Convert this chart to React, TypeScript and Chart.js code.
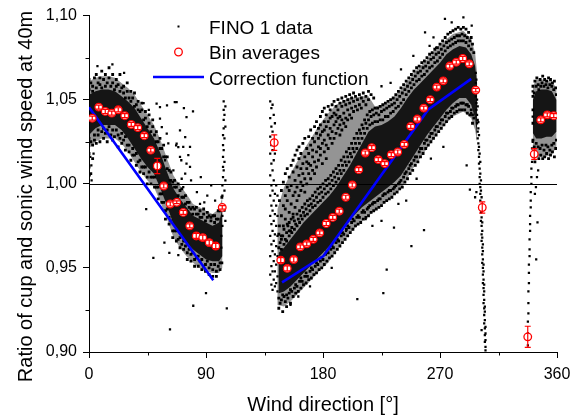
import React, { useEffect, useRef } from 'react';
import { Chart, registerables } from 'chart.js';
Chart.register(...registerables);

const FONT = "'Liberation Sans', Arial, Helvetica, sans-serif";

const xTitle = 'Wind direction [°]';
const yTitle = 'Ratio of cup and sonic wind speed at 40m';
const legendLabels = ['FINO 1 data', 'Bin averages', 'Correction function'];

const xTicks = [0, 90, 180, 270, 360];
const yTicks = [0.9, 0.95, 1.0, 1.05, 1.1];
const xMinorTicks = [45, 135, 225, 315];
const yMinorTicks = [0.925, 0.975, 1.025, 1.075];
const refRatio = 1.0;

// Bin averages (5° bins)
const binDir = [2.5, 7.5, 12.5, 17.5, 22.5, 27.5, 32.5, 37.5, 42.5, 47.5, 52.5, 57.5, 62.5, 67.5, 72.5, 77.5, 82.5, 87.5, 92.5, 97.5, 102.5,
  142.5, 147.5, 152.5, 157.5, 162.5, 167.5, 172.5, 177.5, 182.5, 187.5, 192.5, 197.5, 202.5, 207.5, 212.5, 217.5, 222.5, 227.5, 232.5, 237.5,
  242.5, 247.5, 252.5, 257.5, 262.5, 267.5, 272.5, 277.5, 282.5, 287.5, 292.5, 297.5, 302.5, 337.5, 342.5, 347.5, 352.5, 357.5];
const binMean = [1.039, 1.0456, 1.043, 1.042, 1.044, 1.0405, 1.0353, 1.0334, 1.0286, 1.020, 1.0106, 0.9987, 0.988, 0.989, 0.983, 0.975, 0.969, 0.968, 0.965, 0.963, 0.986,
  1.0245, 0.9546, 0.9497, 0.955, 0.9625, 0.9643, 0.967, 0.9708, 0.9764, 0.980, 0.9837, 0.992, 0.9993, 1.0084, 1.0183, 1.0215, 1.0144, 1.012, 1.0173, 1.0189,
  1.0234, 1.0341, 1.0385, 1.045, 1.050, 1.0575, 1.0612, 1.070, 1.0723, 1.0745, 1.0713, 1.0557, 0.9859, 0.909, 1.0177, 1.038, 1.041, 1.0405];
const binErr = [0.0012, 0.0012, 0.0012, 0.0012, 0.0012, 0.0012, 0.0012, 0.0012, 0.0012, 0.0012, 0.0045, 0.0012, 0.0012, 0.0008, 0.0012, 0.0012, 0.0015, 0.0015, 0.0015, 0.0015, 0.001,
  0.0046, 0.0015, 0.0015, 0.0015, 0.0012, 0.0012, 0.0012, 0.0012, 0.0012, 0.0012, 0.0012, 0.0012, 0.0012, 0.0012, 0.0012, 0.0012, 0.0012, 0.0012, 0.0012, 0.0012,
  0.0012, 0.0012, 0.0012, 0.0012, 0.0012, 0.0012, 0.0012, 0.0012, 0.0012, 0.0012, 0.0012, 0.001, 0.0033, 0.0063, 0.0032, 0.0012, 0.0012, 0.0012];

// Correction function (null = gap)
const corrDir = [0, 95.6, 120, 148.5, 180.3, 261, 294];
const corrRatio: (number | null)[] = [1.0455, 0.9427, null, 0.9414, 0.957, 1.0442, 1.0624];

// Dense cores of the FINO 1 point cloud: [direction, lower, upper]
const coreSector1 = [[0, 1.029, 1.053], [5, 1.033, 1.055], [10, 1.035, 1.056], [15, 1.035, 1.056], [20, 1.035, 1.055], [25, 1.032, 1.052],
  [30, 1.027, 1.049], [35, 1.021, 1.045], [40, 1.015, 1.039], [45, 1.010, 1.033], [50, 1.006, 1.027], [55, 0.997, 1.018], [60, 0.987, 1.007],
  [65, 0.976, 0.997], [70, 0.970, 0.991], [75, 0.965, 0.986], [80, 0.961, 0.981], [85, 0.958, 0.979], [90, 0.955, 0.977], [95, 0.954, 0.975],
  [100, 0.954, 0.977], [102.5, 0.957, 0.985]];
const coreSector2 = [[146, 0.935, 0.959], [150, 0.936, 0.962], [155, 0.939, 0.967], [160, 0.943, 0.972], [165, 0.947, 0.977], [170, 0.951, 0.981],
  [175, 0.955, 0.985], [180, 0.959, 0.989], [185, 0.963, 0.993], [190, 0.968, 0.998], [195, 0.973, 1.004], [200, 0.978, 1.010], [205, 0.982, 1.017],
  [210, 0.986, 1.024], [215, 0.989, 1.031], [220, 0.992, 1.034], [225, 0.995, 1.035], [230, 0.998, 1.037], [235, 1.001, 1.040], [240, 1.005, 1.045],
  [245, 1.011, 1.051], [250, 1.017, 1.056], [255, 1.023, 1.060], [260, 1.029, 1.064], [265, 1.034, 1.068], [270, 1.039, 1.072], [275, 1.044, 1.077],
  [280, 1.048, 1.080], [285, 1.051, 1.082], [290, 1.051, 1.081], [294, 1.047, 1.077], [297, 1.039, 1.070], [298.5, 1.029, 1.060]];
const coreSector3 = [[341.5, 1.030, 1.050], [344, 1.027, 1.055], [348, 1.027, 1.056], [352, 1.028, 1.056], [356, 1.028, 1.055], [359.5, 1.031, 1.050]];

// Medium-density outskirts of the point cloud: [direction, lower, upper]
const haloSector1 = [[0, 1.021, 1.061], [5, 1.025, 1.063], [10, 1.027, 1.064], [15, 1.027, 1.064], [20, 1.027, 1.063], [25, 1.024, 1.060],
  [30, 1.019, 1.057], [35, 1.013, 1.053], [40, 1.007, 1.047], [45, 1.002, 1.041], [50, 0.998, 1.035], [55, 0.989, 1.026], [60, 0.979, 1.015],
  [65, 0.968, 1.005], [70, 0.962, 0.999], [75, 0.957, 0.994], [80, 0.953, 0.988], [85, 0.950, 0.986], [90, 0.948, 0.984], [95, 0.947, 0.982],
  [100, 0.947, 0.985], [102.5, 0.950, 0.992]];
const haloSector2 = [[145, 0.928, 0.985], [150, 0.927, 0.998], [155, 0.930, 1.006], [160, 0.934, 1.013], [165, 0.938, 1.020], [170, 0.942, 1.026],
  [177, 0.948, 1.035], [184, 0.953, 1.042], [190, 0.960, 1.047], [200, 0.970, 1.051], [210, 0.978, 1.052], [215, 0.981, 1.052], [220, 0.984, 1.046],
  [230, 0.990, 1.048], [240, 0.997, 1.056], [250, 1.010, 1.066], [260, 1.021, 1.074], [270, 1.032, 1.083], [280, 1.040, 1.089], [288, 1.043, 1.091],
  [294, 1.039, 1.086], [297, 1.032, 1.078], [298.5, 1.025, 1.066]];
const haloSector3 = [[341.5, 1.022, 1.058], [344, 1.016, 1.062], [350, 1.016, 1.062], [356, 1.017, 1.061], [359.5, 1.022, 1.057]];

// FINO 1 data points around the dense cores: [direction, ratio, ratio, ...]
const finoSector1 = [
  [0, 1.056, 1.062, 1.027, 1.018, 1.010], [1.4, 1.060, 1.025, 1.006], [2.8, 1.055, 1.058, 1.023, 1.015], [4.2, 1.063, 1.029, 1.026],
  [5.6, 1.057, 1.065, 1.024], [7, 1.060, 1.032, 1.029], [8.4, 1.059, 1.063, 1.025], [9.8, 1.057, 1.067, 1.031],
  [11.2, 1.062, 1.033, 1.027], [12.6, 1.058, 1.065, 1.030], [14, 1.060, 1.032, 1.025], [15.4, 1.063, 1.069, 1.034],
  [16.8, 1.058, 1.029], [18.2, 1.060, 1.065, 1.032, 1.026], [19.6, 1.056, 1.028], [21, 1.058, 1.062, 1.032],
  [22.4, 1.059, 1.029, 1.022], [23.8, 1.055, 1.065, 1.027], [25.2, 1.057, 1.030, 1.024], [26.6, 1.054, 1.058, 1.026],
  [28, 1.051, 1.028, 1.020], [29.4, 1.055, 1.060, 1.023], [30.8, 1.051, 1.023, 1.019], [32.2, 1.049, 1.055, 1.014],
  [33.6, 1.051, 1.021, 1.017], [35, 1.046, 1.054, 1.017], [36.4, 1.047, 1.018, 1.011], [37.8, 1.049, 1.044, 1.013],
  [39.2, 1.043, 1.014, 1.007], [40.6, 1.044, 1.048, 1.010], [42, 1.038, 1.010, 1.006], [43.4, 1.039, 1.043, 1.010],
  [44.8, 1.034, 1.004, 1.000], [46.2, 1.036, 1.041, 1.007], [47.6, 1.031, 1.004, 1.000], [49, 1.034, 1.038, 1.004],
  [50.4, 1.029, 1.004, 0.998], [51.8, 1.025, 1.031, 0.998], [53.2, 1.025, 0.998, 0.991], [54.6, 1.021, 1.027, 0.994],
  [56, 1.021, 0.994, 0.989], [57.4, 1.016, 1.023, 0.989], [58.8, 1.016, 0.984, 0.979], [60.2, 1.009, 1.016, 0.985],
  [61.6, 1.008, 0.980, 0.976], [63, 1.002, 1.007, 0.978], [64.4, 1.001, 0.972, 0.968], [65.8, 1.002, 0.998, 0.972],
  [67.2, 0.998, 0.972, 0.966], [68.6, 0.993, 1.000, 0.967], [70, 0.996, 0.968, 0.962], [71.4, 0.992, 0.997, 0.964],
  [72.8, 0.992, 0.966, 0.961], [74.2, 0.988, 0.993, 0.963], [75.6, 0.989, 0.959, 0.955], [77, 0.989, 0.986, 0.961],
  [78.4, 0.985, 0.958, 0.954], [79.8, 0.982, 0.986, 0.959], [81.2, 0.985, 0.955, 0.951], [82.6, 0.982, 0.986, 0.956],
  [84, 0.982, 0.957, 0.951], [85.4, 0.984, 0.980, 0.954], [86.8, 0.980, 0.955, 0.949], [88.2, 0.982, 0.985, 0.951],
  [89.6, 0.978, 0.952, 0.948], [91, 0.980, 0.983, 0.954], [92.4, 0.981, 0.950, 0.946], [93.8, 0.978, 0.980, 0.952],
  [95.2, 0.981, 0.949, 0.945], [96.6, 0.977, 0.981, 0.952], [98, 0.979, 0.948, 0.945], [99.4, 0.979, 0.984, 0.951],
  [100.8, 0.984, 0.953, 0.949], [102.2, 0.987, 0.992, 0.953],
];
const finoSector2 = [
  [146, 0.962, 0.970, 0.932, 0.926], [147, 0.965, 0.929], [148, 0.961, 0.967, 0.931], [149, 0.969, 0.934, 0.924],
  [150, 0.964, 0.973, 0.933], [151, 0.967, 0.930], [152, 0.966, 0.971, 0.934, 0.927], [153, 0.975, 0.932],
  [154, 0.969, 0.977, 0.935], [155, 0.972, 0.937, 0.929], [156, 0.971, 0.974, 0.936], [157, 0.980, 0.933],
  [158, 0.973, 0.978, 0.938], [159, 0.976, 0.940, 0.935], [160, 0.975, 0.982, 0.939], [161, 0.979, 0.936],
  [162, 0.977, 0.984, 0.942], [163, 0.981, 0.944, 0.938], [164, 0.979, 0.986, 0.942], [165, 0.983, 0.940],
  [166, 0.981, 0.988, 0.945], [167, 0.985, 0.947, 0.941], [168, 0.982, 0.990, 0.945], [169, 0.987, 0.943],
  [170, 0.984, 0.991, 0.948], [171, 0.988, 0.950, 0.944], [172, 0.986, 0.993, 0.949], [173, 0.990, 0.946],
  [174, 0.987, 0.995, 0.951], [175, 0.992, 0.953, 0.947], [176, 0.989, 0.997, 0.952], [177, 0.994, 0.949],
  [178, 0.990, 0.998, 0.954], [179, 0.995, 0.956, 0.950], [180, 0.992, 1.000, 0.955], [181, 0.997, 0.952],
  [182, 0.994, 1.002, 0.958], [183, 0.999, 0.960, 0.954], [184, 0.995, 1.003, 0.959], [185, 1.000, 0.956],
  [186, 0.997, 1.005, 0.961], [187, 1.002, 0.963, 0.957], [188, 0.999, 1.007, 0.962], [189, 1.004, 0.959],
  [190, 1.001, 1.009, 0.965], [191, 1.006, 0.967, 0.961], [192, 1.003, 1.011, 0.966], [193, 1.008, 0.963],
  [194, 1.006, 1.014, 0.969], [195, 1.011, 0.971, 0.965], [196, 1.008, 1.016, 0.970], [197, 1.013, 0.967],
  [198, 1.011, 1.019, 0.973], [199, 1.016, 0.975, 0.969], [200, 1.013, 1.021, 0.974], [201, 1.018, 0.971],
  [202, 1.016, 1.024, 0.977], [203, 1.021, 0.979, 0.973], [204, 1.019, 1.027, 0.978], [205, 1.024, 0.975],
  [206, 1.021, 1.030, 0.980], [207, 1.027, 0.981, 0.976], [208, 1.024, 1.032, 0.980], [209, 1.030, 0.977],
  [210, 1.027, 1.035, 0.983], [211, 1.033, 0.984, 0.979], [212, 1.030, 1.038, 0.983], [213, 1.036, 0.980],
  [214, 1.033, 1.041, 0.985], [215, 1.038, 0.986, 0.981], [216, 1.035, 1.043, 0.987], [217, 1.040, 0.983],
  [218, 1.036, 1.044, 0.988], [219, 1.041, 0.989, 0.984], [220, 1.037, 1.045, 0.989], [221, 1.042, 0.985],
  [222, 1.037, 1.045, 0.990], [223, 1.041, 0.991, 0.986], [224, 1.038, 1.046, 0.991], [225, 1.043, 0.987],
  [226, 1.038, 1.047, 0.993], [227, 1.044, 0.994, 0.989], [228, 1.040, 1.048, 0.994], [229, 1.045, 0.990],
  [230, 1.040, 1.049, 0.995], [231, 1.046, 0.996, 0.991], [232, 1.042, 1.050, 0.996], [233, 1.047, 0.992],
  [234, 1.043, 1.051, 0.997], [235, 1.048, 0.998, 0.994], [236, 1.045, 1.053, 0.999], [237, 1.050, 0.995],
  [238, 1.046, 1.055, 1.000], [239, 1.052, 1.001, 0.997], [240, 1.048, 1.057, 1.002], [241, 1.054, 0.998],
  [242, 1.050, 1.059, 1.004], [243, 1.056, 1.006, 1.001], [244, 1.053, 1.061, 1.007], [245, 1.058, 1.003],
  [246, 1.055, 1.063, 1.009], [247, 1.060, 1.011, 1.006], [248, 1.057, 1.065, 1.012], [249, 1.062, 1.008],
  [250, 1.059, 1.067, 1.014], [251, 1.064, 1.016, 1.011], [252, 1.061, 1.069, 1.016], [253, 1.066, 1.013],
  [254, 1.062, 1.070, 1.019], [255, 1.067, 1.021, 1.016], [256, 1.064, 1.072, 1.021], [257, 1.069, 1.018],
  [258, 1.065, 1.073, 1.024], [259, 1.070, 1.026, 1.021], [260, 1.067, 1.075, 1.026], [261, 1.072, 1.023],
  [262, 1.069, 1.077, 1.028], [263, 1.074, 1.030, 1.025], [264, 1.070, 1.078, 1.030], [265, 1.075, 1.027],
  [266, 1.072, 1.080, 1.032], [267, 1.077, 1.034, 1.029], [268, 1.073, 1.081, 1.034], [269, 1.078, 1.031],
  [270, 1.075, 1.083, 1.036], [271, 1.080, 1.038, 1.033], [272, 1.077, 1.085, 1.038], [273, 1.082, 1.035],
  [274, 1.079, 1.087, 1.040], [275, 1.084, 1.042, 1.037], [276, 1.081, 1.089, 1.042], [277, 1.085, 1.039],
  [278, 1.082, 1.090, 1.043], [279, 1.086, 1.045, 1.040], [280, 1.083, 1.091, 1.045], [281, 1.087, 1.042],
  [282, 1.084, 1.092, 1.046], [283, 1.088, 1.047, 1.043], [284, 1.085, 1.093, 1.047], [285, 1.088, 1.044],
  [286, 1.085, 1.092, 1.048], [287, 1.089, 1.048, 1.044], [288, 1.085, 1.093, 1.048], [289, 1.088, 1.044],
  [290, 1.084, 1.092, 1.047], [291, 1.087, 1.047, 1.042], [292, 1.082, 1.090, 1.046], [293, 1.085, 1.041],
  [294, 1.080, 1.087, 1.044], [295, 1.083, 1.041, 1.036], [296, 1.078, 1.039],
];
const finoFan = [
  [146.5, 0.975, 0.990], [148, 0.981, 0.969, 0.996], [149.5, 0.987, 0.975, 1.001], [151, 0.979, 0.993, 0.985, 1.006],
  [152.5, 0.990, 0.976, 1.009, 0.998], [154, 0.983, 0.996, 1.004, 0.972], [155.5, 0.988, 1.011, 0.979, 0.999],
  [157, 0.993, 0.982, 1.007, 1.014], [158.5, 1.002, 0.986, 0.995, 1.017], [160, 0.990, 1.010, 0.998, 1.020],
  [161.5, 1.005, 0.993, 1.015, 1.022], [163, 0.996, 1.009, 1.018, 1.001], [164.5, 1.012, 0.999, 1.024, 1.006],
  [166, 1.003, 1.016, 1.027, 0.995], [167.5, 1.009, 1.021, 1.013, 1.000], [169, 1.018, 1.006, 1.028, 1.012],
  [170.5, 1.011, 1.023, 1.032, 1.003], [172, 1.016, 1.027, 1.008, 1.020], [173.5, 1.025, 1.013, 1.034, 1.006],
  [175, 1.019, 1.030, 1.010, 1.037], [176.5, 1.027, 1.014, 1.033, 1.022], [178, 1.021, 1.035, 1.017, 1.040, 1.029],
  [179.5, 1.031, 1.024, 1.043, 1.012], [181, 1.026, 1.037, 1.019, 1.045, 1.032], [182.5, 1.034, 1.023, 1.041, 1.015],
  [184, 1.029, 1.046, 1.037, 1.021], [185.5, 1.039, 1.027, 1.044, 1.033], [187, 1.031, 1.047, 1.024, 1.040],
  [188.5, 1.042, 1.035, 1.049, 1.027], [190, 1.037, 1.046, 1.030, 1.041], [191.5, 1.044, 1.033, 1.050, 1.039],
  [193, 1.040, 1.048, 1.035, 1.029], [194.5, 1.046, 1.038, 1.051, 1.032], [196, 1.042, 1.049, 1.036],
  [197.5, 1.047, 1.039, 1.052, 1.034], [199, 1.044, 1.050, 1.038], [200.5, 1.048, 1.041, 1.053], [202, 1.045, 1.051, 1.039],
  [203.5, 1.049, 1.043, 1.054], [205, 1.046, 1.052], [206.5, 1.050, 1.044], [208, 1.047, 1.053], [209.5, 1.051, 1.045],
  [211, 1.049, 1.054], [213, 1.052, 1.047], [215, 1.050, 1.055], [217, 1.053], [219, 1.051],
];
const finoSector3 = [
  [341.5, 1.058, 1.052, 1.044, 1.036, 1.026], [342.5, 1.054, 1.022], [343, 1.061, 1.019, 1.013], [344, 1.058, 1.024],
  [344.5, 1.063, 1.017], [345.5, 1.059, 1.022], [346, 1.056, 1.015], [347, 1.062, 1.021], [347.5, 1.058, 1.017],
  [348.5, 1.060, 1.023], [349, 1.064, 1.015], [350, 1.058, 1.020], [350.5, 1.062, 1.016], [351.5, 1.059, 1.023],
  [352, 1.061, 1.018], [353, 1.057, 1.022], [353.5, 1.063, 1.015], [354.5, 1.059, 1.020], [355, 1.062, 1.017],
  [356, 1.058, 1.023], [356.5, 1.060, 1.019], [357.5, 1.056, 1.024], [358, 1.061, 1.016], [359, 1.057, 1.021],
  [359.5, 1.053, 1.026],
];

// Sparse FINO 1 data points: strips and outliers
const finoSector1Sparse = [
  [101.8, 0.962, 0.969, 0.987], [102.6, 0.975, 0.981, 0.993, 0.999], [103.1, 1.004, 1.010, 1.016, 1.023, 1.029],
  [103.6, 1.033, 1.038, 1.044, 1.049, 1.020, 1.008], [104.2, 1.041, 1.027, 1.013, 0.996, 0.984], [104.9, 1.046, 1.034, 1.002, 0.978],
  [0.5, 1.005], [1.0, 1.016], [2.0, 1.002], [3.5, 1.018], [1.8, 1.011], [6.5, 1.070], [18, 1.071], [27, 1.066], [42, 1.048], [46, 1.044],
  [49.5, 0.956], [52, 1.0476], [54.6, 1.0456, 1.0387], [56, 1.0337], [58.5, 1.014], [59.8, 1.0298], [60, 1.0466], [61, 1.024],
  [61.8, 0.959], [62, 1.002], [62.3, 0.9135], [64.9, 1.008], [66, 1.0486], [67, 1.0228], [67.4, 1.0486, 1.0239], [68.7, 1.0218, 0.9576],
  [70, 1.016, 1.0318], [71, 1.014], [71.3, 1.003], [72.5, 1.022, 0.998], [74, 1.0278, 1.006], [75, 1.012, 1.0397], [76.4, 1.017],
  [77.7, 1.022, 1.010], [78.5, 1.002], [80.2, 0.9275], [85.4, 0.988], [88.7, 0.989], [83, 0.995], [91, 0.993], [94, 0.999], [97, 0.990],
  [106, 0.926], [86, 1.004], [80, 1.043], [73, 1.045], [90, 0.935], [58, 0.965], [44, 0.985],
];
const finoStrip140 = [
  [139.4, 1.049, 1.039, 1.028, 1.018, 1.005, 0.993, 0.981, 0.969, 0.957, 0.946],
  [140.3, 1.045, 1.034, 1.023, 1.012, 0.999, 0.987, 0.976, 0.964, 0.951, 0.940],
  [141.2, 1.047, 1.031, 1.020, 1.008, 0.996, 0.984, 0.972, 0.960, 0.948, 0.937],
  [142.1, 1.041, 1.026, 1.014, 1.002, 0.990, 0.978, 0.966, 0.954, 0.943],
  [143.0, 1.036, 1.018, 0.994, 0.982, 0.970, 0.958, 0.948, 0.939],
  [144.0, 0.999, 0.987, 0.975, 0.963, 0.952, 0.941],
  [145.0, 0.993, 0.981, 0.969, 0.957, 0.945, 0.936],
];
const finoOutliers = [
  [186.7, 0.950], [197.7, 0.972], [206.4, 0.9315], [212.8, 0.979], [218, 0.975], [226.4, 0.935], [229, 0.949], [234.6, 0.974],
  [248, 0.963], [257.7, 0.9724], [263, 1.015], [272.6, 1.022], [290.5, 1.011], [293, 0.9966], [297, 0.992], [298, 0.995],
  [249.5, 1.076], [258.5, 1.090], [265, 1.087], [267, 1.081], [262, 1.082], [240, 1.068], [232, 1.060], [273.8, 1.098],
  [279, 1.096], [288, 1.099], [294.4, 1.094], [225, 1.058], [302, 0.913], [170, 0.939], [161, 0.933], [155, 0.928],
  [244, 0.990], [252, 1.003], [225, 0.978], [238, 0.988], [299.5, 1.0367], [294, 1.042],
];
const finoDrop = [
  [297.5, 1.066, 1.060, 1.052], [298, 1.062, 1.056, 1.048, 1.044], [298.5, 1.050, 1.041, 1.036], [299, 1.046, 1.038, 1.031, 1.027],
  [299.5, 1.033, 1.024, 1.020], [300, 1.029, 1.022, 1.016, 1.012], [300.5, 1.018, 1.009, 1.004, 1.000],
  [301, 1.013, 1.006, 0.998, 0.994, 0.990], [301.5, 1.002, 0.996, 0.987, 0.983, 0.978], [302, 0.992, 0.985, 0.980, 0.975, 0.970, 0.966],
  [302.5, 0.977, 0.972, 0.968, 0.962, 0.958, 0.953], [303, 0.964, 0.960, 0.955, 0.950, 0.946, 0.941],
  [303.5, 0.952, 0.948, 0.943, 0.938, 0.934, 0.929], [304, 0.940, 0.936, 0.931, 0.926, 0.922, 0.917],
  [304.5, 0.927, 0.924, 0.919, 0.914, 0.910, 0.906], [305, 0.915, 0.911, 0.907, 0.903, 0.901],
];
const finoStrip338 = [
  [337.6, 0.904, 0.911, 0.918], [338.0, 0.923, 0.929, 0.936], [338.4, 0.941, 0.947, 0.952], [338.9, 0.957, 0.961, 0.967],
  [339.3, 0.972, 0.976, 0.981], [339.8, 0.986, 0.990, 0.995], [340.3, 1.000, 1.004, 1.009], [340.8, 1.013, 1.017, 1.021],
  [341.3, 1.025, 1.040, 1.055], [344, 0.955], [345, 0.977], [343.8, 0.998], [344.6, 1.004], [345.5, 1.008], [343, 0.994],
];

const toPoints = (cols: number[][]) => {
  const pts: { x: number; y: number }[] = [];
  cols.forEach(([d, ...vals]) => vals.forEach((v) => pts.push({ x: d, y: v })));
  return pts;
};

const fillBands = (ctx: any, x: any, y: any, bands: number[][][], color: string) => {
  ctx.fillStyle = color;
  for (const band of bands) {
    ctx.beginPath();
    band.forEach(([d, lo], i) => {
      const px = x.getPixelForValue(d), py = y.getPixelForValue(lo);
      if (i === 0) ctx.moveTo(px, py); else ctx.lineTo(px, py);
    });
    for (let i = band.length - 1; i >= 0; i--) {
      ctx.lineTo(x.getPixelForValue(band[i][0]), y.getPixelForValue(band[i][2]));
    }
    ctx.closePath();
    ctx.fill();
  }
};

const decor = {
  id: 'decor',
  beforeDatasetsDraw(chart: any) {
    const { ctx, chartArea, scales } = chart;
    const x = scales.x, y = scales.y;
    ctx.save();
    ctx.strokeStyle = '#000';
    ctx.lineWidth = 1;
    const py = Math.round(y.getPixelForValue(refRatio)) + 0.5;
    ctx.beginPath();
    ctx.moveTo(chartArea.left, py);
    ctx.lineTo(chartArea.right, py);
    ctx.stroke();
    fillBands(ctx, x, y, [haloSector1, haloSector2, haloSector3], 'rgba(0,0,0,0.42)');
    fillBands(ctx, x, y, [coreSector1, coreSector2, coreSector3], 'rgba(0,0,0,0.86)');
    ctx.restore();
  },
  afterDatasetsDraw(chart: any) {
    const { ctx, scales } = chart;
    const x = scales.x, y = scales.y;
    ctx.save();
    ctx.strokeStyle = '#ff0000';
    ctx.lineWidth = 1.2;
    binDir.forEach((d, i) => {
      const px = x.getPixelForValue(d);
      const t = y.getPixelForValue(binMean[i] + binErr[i]);
      const b = y.getPixelForValue(binMean[i] - binErr[i]);
      ctx.beginPath();
      ctx.moveTo(px, t); ctx.lineTo(px, b);
      ctx.moveTo(px - 3, t); ctx.lineTo(px + 3, t);
      ctx.moveTo(px - 3, b); ctx.lineTo(px + 3, b);
      ctx.stroke();
    });
    ctx.restore();
  },
  afterDraw(chart: any) {
    const { ctx, chartArea, scales } = chart;
    const x = scales.x, y = scales.y;
    const { left, bottom } = chartArea;
    ctx.save();
    ctx.strokeStyle = '#000';
    ctx.lineWidth = 1;
    ctx.beginPath();
    for (const v of xMinorTicks) {
      const px = Math.round(x.getPixelForValue(v)) + 0.5;
      ctx.moveTo(px, bottom); ctx.lineTo(px, bottom + 3.5);
    }
    for (const v of yMinorTicks) {
      const py = Math.round(y.getPixelForValue(v)) + 0.5;
      ctx.moveTo(left, py); ctx.lineTo(left - 3.5, py);
    }
    ctx.stroke();

    ctx.fillStyle = '#000';
    ctx.font = `20px ${FONT}`;
    ctx.textAlign = 'center';
    ctx.textBaseline = 'alphabetic';
    ctx.fillText(xTitle, 323, 411);
    ctx.save();
    ctx.translate(31.5, 196.5);
    ctx.rotate(-Math.PI / 2);
    ctx.fillText(yTitle, 0, 0);
    ctx.restore();

    // legend
    ctx.fillRect(177.5, 25.5, 2, 2);
    ctx.beginPath();
    ctx.arc(178.5, 52, 3.8, 0, Math.PI * 2);
    ctx.fillStyle = '#fff';
    ctx.fill();
    ctx.strokeStyle = '#ff0000';
    ctx.lineWidth = 1.3;
    ctx.stroke();
    ctx.beginPath();
    ctx.strokeStyle = '#0000ff';
    ctx.lineWidth = 2.6;
    ctx.moveTo(153, 77); ctx.lineTo(204, 77);
    ctx.stroke();
    ctx.fillStyle = '#000';
    ctx.font = `19px ${FONT}`;
    ctx.textAlign = 'left';
    ctx.fillText(legendLabels[0], 209, 33.5);
    ctx.fillText(legendLabels[1], 209, 59.3);
    ctx.fillText(legendLabels[2], 209, 84.5);
    ctx.restore();
  },
};

export default function App() {
  const ref = useRef<HTMLCanvasElement>(null);
  useEffect(() => {
    document.body.style.margin = '0';
    const canvas = ref.current!;
    const denseDots = [
      ...toPoints(finoSector1), ...toPoints(finoSector2), ...toPoints(finoFan), ...toPoints(finoSector3),
    ];
    const sparseDots = [
      ...toPoints(finoSector1Sparse), ...toPoints(finoStrip140), ...toPoints(finoOutliers), ...toPoints(finoDrop), ...toPoints(finoStrip338),
    ];
    const binPoints = binDir.map((d, i) => ({ x: d, y: binMean[i] }));
    const corrPoints = corrDir.map((d, i) => ({ x: d, y: corrRatio[i] }));
    const axisCommon = {
      type: 'linear' as const,
      grid: { display: true, drawOnChartArea: false, drawTicks: true, tickLength: 6, color: '#000', lineWidth: 1 },
      border: { display: true, color: '#000', width: 1 },
    };
    const chart = new Chart(canvas, {
      type: 'scatter',
      data: {
        datasets: [
          { label: legendLabels[1], data: binPoints, order: 1, pointStyle: 'circle', pointRadius: 3.8, borderColor: '#ff0000', backgroundColor: '#ffffff', borderWidth: 1.3 },
          { label: legendLabels[2], data: corrPoints as any, order: 2, showLine: true, borderColor: '#0000ff', borderWidth: 2.6, pointRadius: 0, spanGaps: false },
          { label: legendLabels[0], data: denseDots, order: 3, pointStyle: 'rect', pointRadius: 2, borderWidth: 0, backgroundColor: '#000000' },
          { label: legendLabels[0], data: sparseDots, order: 4, pointStyle: 'rect', pointRadius: 1.6, borderWidth: 0, backgroundColor: '#000000' },
        ],
      },
      options: {
        responsive: false,
        animation: false,
        devicePixelRatio: 1,
        events: [],
        layout: { padding: { top: 15, right: 22, left: 0, bottom: 0 } },
        plugins: { legend: { display: false }, tooltip: { enabled: false } },
        scales: {
          x: {
            ...axisCommon,
            min: 0, max: 360,
            afterFit: (s: any) => { s.height = 65; },
            afterBuildTicks: (s: any) => { s.ticks = xTicks.map((v) => ({ value: v })); },
            ticks: { color: '#000', font: { family: FONT, size: 16 }, padding: 7, maxRotation: 0, autoSkip: false, callback: (v: any) => String(v) },
          },
          y: {
            ...axisCommon,
            min: 0.9, max: 1.1,
            afterFit: (s: any) => { s.width = 89; },
            afterBuildTicks: (s: any) => { s.ticks = yTicks.map((v) => ({ value: v })); },
            ticks: { color: '#000', font: { family: FONT, size: 16 }, padding: 6, autoSkip: false, callback: (v: any) => Number(v).toFixed(2).replace('.', ',') },
          },
        },
      } as any,
      plugins: [decor],
    });
    return () => chart.destroy();
  }, []);
  return (
    <div style={{ width: 579, height: 417 }}>
      <canvas ref={ref} width={579} height={417} style={{ display: 'block' }} />
    </div>
  );
}
